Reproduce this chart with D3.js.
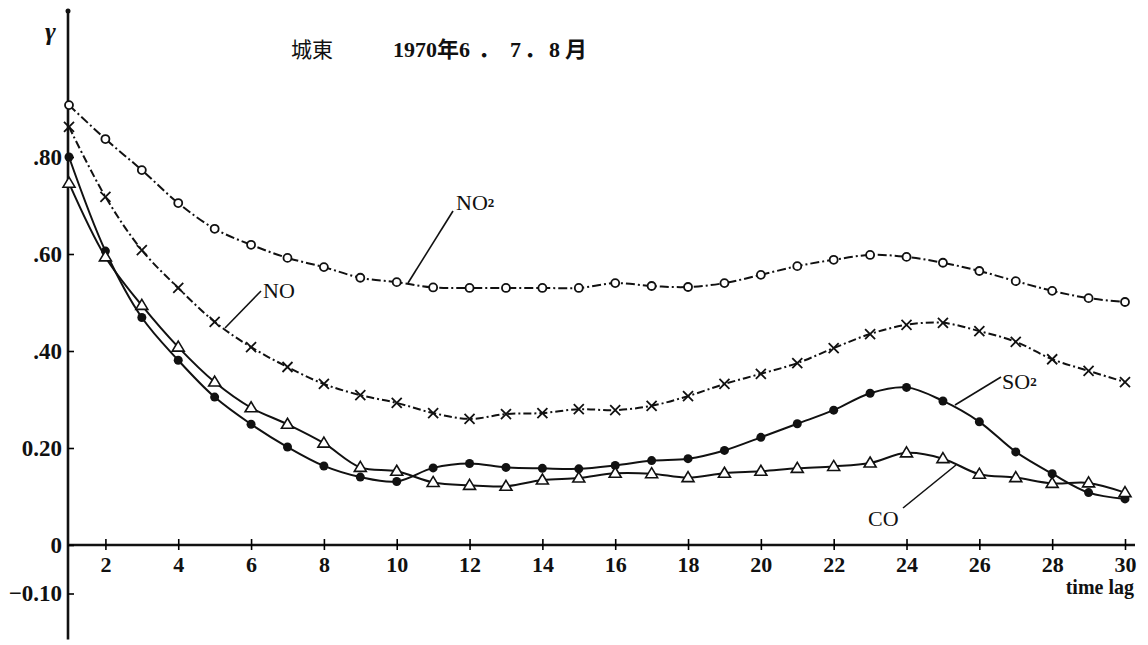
<!DOCTYPE html>
<html>
<head>
<meta charset="utf-8">
<script src="https://cdn.jsdelivr.net/npm/d3@7"></script>
<style>
body { margin: 0; background: #fff; }
text { font-family: "Liberation Serif", "Noto Sans CJK JP", serif; fill: #111; }
</style>
</head>
<body>
<div id="chart"></div>
<script>
var width = 1148, height = 645;

// time lag (categories)
var lags = [1,2,3,4,5,6,7,8,9,10,11,12,13,14,15,16,17,18,19,20,21,22,23,24,25,26,27,28,29,30];
// correlation values
var no2 = [0.907,0.837,0.773,0.705,0.652,0.619,0.592,0.573,0.551,0.542,0.531,0.530,0.530,0.530,0.530,0.540,0.534,0.532,0.540,0.557,0.575,0.588,0.598,0.594,0.582,0.565,0.544,0.524,0.509,0.501];
var no  = [0.862,0.718,0.608,0.530,0.460,0.408,0.367,0.332,0.309,0.293,0.272,0.260,0.270,0.272,0.280,0.278,0.287,0.307,0.332,0.353,0.375,0.406,0.435,0.454,0.458,0.441,0.419,0.383,0.359,0.336];
var so2 = [0.800,0.606,0.469,0.381,0.305,0.249,0.202,0.163,0.140,0.131,0.159,0.168,0.160,0.158,0.157,0.164,0.174,0.178,0.195,0.222,0.250,0.278,0.313,0.325,0.297,0.254,0.192,0.147,0.108,0.095];
var co  = [0.746,0.594,0.494,0.408,0.336,0.283,0.249,0.210,0.160,0.152,0.129,0.123,0.121,0.134,0.138,0.148,0.147,0.139,0.148,0.152,0.158,0.162,0.169,0.190,0.178,0.146,0.139,0.127,0.128,0.108];

var xTicks = [2,4,6,8,10,12,14,16,18,20,22,24,26,28,30];
var yTicks = [0.8,0.6,0.4,0.2,0,-0.1];
var yTickLabels = [".80",".60",".40","0.20","0","\u22120.10"];

var svg = d3.select("#chart").append("svg")
  .attr("width", width)
  .attr("height", height);

var x = d3.scaleLinear().domain([1,30]).range([69,1125]);
var y = d3.scaleLinear().domain([0,0.8]).range([545,157]);

// axes lines
svg.append("line")
  .attr("x1", 68).attr("x2", 68)
  .attr("y1", 11).attr("y2", y(-0.195))
  .style("stroke", "#111").style("stroke-width", 2.6);
svg.append("circle").attr("cx", 68).attr("cy", 11).attr("r", 2.5).style("fill", "#111");

svg.append("line")
  .attr("x1", 68).attr("x2", 1135)
  .attr("y1", y(0)).attr("y2", y(0))
  .style("stroke", "#111").style("stroke-width", 2.4);

// x axis
var xAxis = svg.append("g")
  .attr("transform", "translate(0," + y(0) + ")")
  .call(d3.axisBottom(x).tickValues(xTicks).tickSize(5).tickPadding(6));
xAxis.select(".domain").remove();
xAxis.selectAll(".tick line").attr("y1", -6).attr("y2", 5).style("stroke-width", 1.6);
xAxis.selectAll(".tick text")
  .style("font-size", "22px").style("font-weight", "bold")
  .style("font-family", "Liberation Serif");

// y axis
var yAxis = svg.append("g")
  .attr("transform", "translate(68,0)")
  .call(d3.axisLeft(y).tickValues(yTicks).tickSizeInner(-6).tickSizeOuter(0).tickPadding(6)
    .tickFormat(function(d, i){ return yTickLabels[i]; }));
yAxis.select(".domain").remove();
yAxis.selectAll(".tick line").style("stroke-width", 1.6);
yAxis.selectAll(".tick text")
  .style("font-size", "23px").style("font-weight", "bold")
  .style("font-family", "Liberation Serif");

// axis titles
svg.append("text")
  .attr("x", 45).attr("y", 40)
  .style("font-size", "26px").style("font-style", "italic").style("font-weight", "bold")
  .text("\u03b3");
svg.append("text")
  .attr("x", 1134).attr("y", 594)
  .style("text-anchor", "end")
  .style("font-size", "20px").style("font-weight", "bold")
  .text("time lag");

// title
svg.append("text")
  .attr("x", 291).attr("y", 57)
  .style("font-size", "21px").style("font-family", "Noto Sans CJK JP")
  .text("城東");
var title = svg.append("text")
  .attr("y", 57)
  .style("font-size", "22px").style("font-weight", "bold");
title.append("tspan").attr("x", 393).text("1970年6");
title.append("tspan").attr("x", 478).text("．");
title.append("tspan").attr("x", 510).text("7");
title.append("tspan").attr("x", 524).text("．");
title.append("tspan").attr("x", 549).text("8");
title.append("tspan").attr("x", 565).text("月");

// series
function makeLine(vals){
  return d3.line()
    .x(function(d, i){ return x(lags[i]); })
    .y(function(d){ return y(d); })
    .curve(d3.curveCatmullRom.alpha(0.5))(vals);
}

svg.append("path").attr("d", makeLine(no2))
  .style("fill", "none").style("stroke", "#111").style("stroke-width", 2)
  .style("stroke-dasharray", "9,3,2,3");
svg.append("path").attr("d", makeLine(no))
  .style("fill", "none").style("stroke", "#111").style("stroke-width", 2)
  .style("stroke-dasharray", "8,3,2,3");
svg.append("path").attr("d", makeLine(so2))
  .style("fill", "none").style("stroke", "#111").style("stroke-width", 2);
svg.append("path").attr("d", makeLine(co))
  .style("fill", "none").style("stroke", "#111").style("stroke-width", 2);

// markers
svg.append("g").selectAll("circle")
  .data(no2).enter().append("circle")
  .attr("cx", function(d, i){ return x(lags[i]); })
  .attr("cy", function(d){ return y(d); })
  .attr("r", 4)
  .style("fill", "#fff").style("stroke", "#111").style("stroke-width", 1.8);

svg.append("g").selectAll("path")
  .data(no).enter().append("path")
  .attr("transform", function(d, i){ return "translate(" + x(lags[i]) + "," + y(d) + ")"; })
  .attr("d", "M-5,-5L5,5M-5,5L5,-5")
  .style("stroke", "#111").style("stroke-width", 1.8);

svg.append("g").selectAll("circle")
  .data(so2).enter().append("circle")
  .attr("cx", function(d, i){ return x(lags[i]); })
  .attr("cy", function(d){ return y(d); })
  .attr("r", 4.5)
  .style("fill", "#111");

svg.append("g").selectAll("path")
  .data(co).enter().append("path")
  .attr("transform", function(d, i){ return "translate(" + x(lags[i]) + "," + y(d) + ")"; })
  .attr("d", "M0,-6L6,4L-6,4Z")
  .style("fill", "#fff").style("stroke", "#111").style("stroke-width", 1.6);

// labels with leader lines
var labels = [
  {name: "NO", sub: "2", tx: 456, ty: 210, x1: 408, y1: 283, x2: 453, y2: 211},
  {name: "NO", sub: "", tx: 263, ty: 298, x1: 225, y1: 328, x2: 261, y2: 291},
  {name: "SO", sub: "2", tx: 1002, ty: 389, x1: 955, y1: 405, x2: 1001, y2: 377},
  {name: "CO", sub: "", tx: 868, ty: 526, x1: 903, y1: 508, x2: 956, y2: 465}
];
labels.forEach(function(d){
  svg.append("line")
    .attr("x1", d.x1).attr("y1", d.y1).attr("x2", d.x2).attr("y2", d.y2)
    .style("stroke", "#111").style("stroke-width", 1.6);
  var t = svg.append("text")
    .attr("x", d.tx).attr("y", d.ty)
    .style("font-size", "22px");
  t.append("tspan").text(d.name);
  if (d.sub) t.append("tspan").attr("dy", -3).style("font-size", "13px").style("font-weight", "bold").text(d.sub);
});
</script>
</body>
</html>
